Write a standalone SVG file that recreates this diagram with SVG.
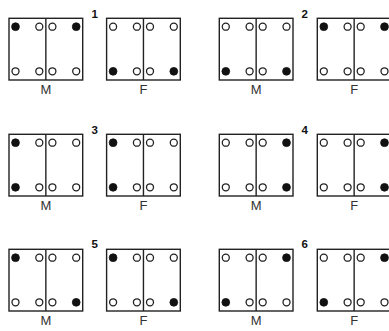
<svg xmlns="http://www.w3.org/2000/svg" xmlns:xlink="http://www.w3.org/1999/xlink" width="389" height="331" viewBox="0 0 389 331">
<style>
.bx{fill:none;stroke:#222;stroke-width:1.4}
.o{fill:#fff;stroke:#222;stroke-width:1.3}
.f{fill:#111;stroke:#111;stroke-width:0.8}
.lbl{font-family:"Liberation Sans",Arial,sans-serif;font-size:13px;fill:#333;text-anchor:middle}
.num{font-family:"Liberation Sans",Arial,sans-serif;font-size:11.5px;font-weight:bold;fill:#111;text-anchor:middle}
</style>
<defs>
<g id="box"><rect class="bx" x="0" y="0" width="73.7" height="61.7"/><line class="bx" x1="36.85" y1="0" x2="36.85" y2="61.7"/></g>
<circle id="oc" class="o" r="3.5"/>
<circle id="fc" class="f" r="3.9"/>
</defs>
<rect width="389" height="331" fill="#fff"/>

<!-- Row 1 -->
<g id="p1M" transform="translate(9,18.3)">
<use href="#box"/>
<use href="#fc" x="6.5" y="8.4"/><use href="#oc" x="30.3" y="8.4"/><use href="#oc" x="43.4" y="8.4"/><use href="#fc" x="67.2" y="8.4"/>
<use href="#oc" x="6.5" y="53"/><use href="#oc" x="30.3" y="53"/><use href="#oc" x="43.4" y="53"/><use href="#oc" x="67.2" y="53"/>
<text class="lbl" x="36.85" y="75.7">M</text>
</g>
<g id="n1"><text class="num" x="94.7" y="18.3">1</text></g>
<g id="p1F" transform="translate(106.6,18.3)">
<use href="#box"/>
<use href="#oc" x="6.5" y="8.4"/><use href="#oc" x="30.3" y="8.4"/><use href="#oc" x="43.4" y="8.4"/><use href="#oc" x="67.2" y="8.4"/>
<use href="#fc" x="6.5" y="53"/><use href="#oc" x="30.3" y="53"/><use href="#oc" x="43.4" y="53"/><use href="#fc" x="67.2" y="53"/>
<text class="lbl" x="36.85" y="75.7">F</text>
</g>
<g id="p2M" transform="translate(219.3,18.3)">
<use href="#box"/>
<use href="#oc" x="6.5" y="8.4"/><use href="#oc" x="30.3" y="8.4"/><use href="#oc" x="43.4" y="8.4"/><use href="#oc" x="67.2" y="8.4"/>
<use href="#fc" x="6.5" y="53"/><use href="#oc" x="30.3" y="53"/><use href="#oc" x="43.4" y="53"/><use href="#fc" x="67.2" y="53"/>
<text class="lbl" x="36.85" y="75.7">M</text>
</g>
<g id="n2"><text class="num" x="304.6" y="18.3">2</text></g>
<g id="p2F" transform="translate(317.3,18.3)">
<use href="#box"/>
<use href="#fc" x="6.5" y="8.4"/><use href="#oc" x="30.3" y="8.4"/><use href="#oc" x="43.4" y="8.4"/><use href="#fc" x="67.2" y="8.4"/>
<use href="#oc" x="6.5" y="53"/><use href="#oc" x="30.3" y="53"/><use href="#oc" x="43.4" y="53"/><use href="#oc" x="67.2" y="53"/>
<text class="lbl" x="36.85" y="75.7">F</text>
</g>

<!-- Row 2 -->
<g id="p3M" transform="translate(9,134.3)">
<use href="#box"/>
<use href="#fc" x="6.5" y="8.4"/><use href="#oc" x="30.3" y="8.4"/><use href="#oc" x="43.4" y="8.4"/><use href="#oc" x="67.2" y="8.4"/>
<use href="#fc" x="6.5" y="53"/><use href="#oc" x="30.3" y="53"/><use href="#oc" x="43.4" y="53"/><use href="#oc" x="67.2" y="53"/>
<text class="lbl" x="36.85" y="75.7">M</text>
</g>
<g id="n3"><text class="num" x="94.7" y="134.3">3</text></g>
<g id="p3F" transform="translate(106.6,134.3)">
<use href="#box"/>
<use href="#fc" x="6.5" y="8.4"/><use href="#oc" x="30.3" y="8.4"/><use href="#oc" x="43.4" y="8.4"/><use href="#oc" x="67.2" y="8.4"/>
<use href="#fc" x="6.5" y="53"/><use href="#oc" x="30.3" y="53"/><use href="#oc" x="43.4" y="53"/><use href="#oc" x="67.2" y="53"/>
<text class="lbl" x="36.85" y="75.7">F</text>
</g>
<g id="p4M" transform="translate(219.3,134.3)">
<use href="#box"/>
<use href="#oc" x="6.5" y="8.4"/><use href="#oc" x="30.3" y="8.4"/><use href="#oc" x="43.4" y="8.4"/><use href="#fc" x="67.2" y="8.4"/>
<use href="#oc" x="6.5" y="53"/><use href="#oc" x="30.3" y="53"/><use href="#oc" x="43.4" y="53"/><use href="#fc" x="67.2" y="53"/>
<text class="lbl" x="36.85" y="75.7">M</text>
</g>
<g id="n4"><text class="num" x="304.6" y="134.3">4</text></g>
<g id="p4F" transform="translate(317.3,134.3)">
<use href="#box"/>
<use href="#oc" x="6.5" y="8.4"/><use href="#oc" x="30.3" y="8.4"/><use href="#oc" x="43.4" y="8.4"/><use href="#fc" x="67.2" y="8.4"/>
<use href="#oc" x="6.5" y="53"/><use href="#oc" x="30.3" y="53"/><use href="#oc" x="43.4" y="53"/><use href="#fc" x="67.2" y="53"/>
<text class="lbl" x="36.85" y="75.7">F</text>
</g>

<!-- Row 3 -->
<g id="p5M" transform="translate(9,249.3)">
<use href="#box"/>
<use href="#fc" x="6.5" y="8.4"/><use href="#oc" x="30.3" y="8.4"/><use href="#oc" x="43.4" y="8.4"/><use href="#oc" x="67.2" y="8.4"/>
<use href="#oc" x="6.5" y="53"/><use href="#oc" x="30.3" y="53"/><use href="#oc" x="43.4" y="53"/><use href="#fc" x="67.2" y="53"/>
<text class="lbl" x="36.85" y="75.7">M</text>
</g>
<g id="n5"><text class="num" x="94.7" y="248">5</text></g>
<g id="p5F" transform="translate(106.6,249.3)">
<use href="#box"/>
<use href="#fc" x="6.5" y="8.4"/><use href="#oc" x="30.3" y="8.4"/><use href="#oc" x="43.4" y="8.4"/><use href="#oc" x="67.2" y="8.4"/>
<use href="#oc" x="6.5" y="53"/><use href="#oc" x="30.3" y="53"/><use href="#oc" x="43.4" y="53"/><use href="#fc" x="67.2" y="53"/>
<text class="lbl" x="36.85" y="75.7">F</text>
</g>
<g id="p6M" transform="translate(219.3,249.3)">
<use href="#box"/>
<use href="#oc" x="6.5" y="8.4"/><use href="#oc" x="30.3" y="8.4"/><use href="#oc" x="43.4" y="8.4"/><use href="#fc" x="67.2" y="8.4"/>
<use href="#fc" x="6.5" y="53"/><use href="#oc" x="30.3" y="53"/><use href="#oc" x="43.4" y="53"/><use href="#oc" x="67.2" y="53"/>
<text class="lbl" x="36.85" y="75.7">M</text>
</g>
<g id="n6"><text class="num" x="304.6" y="248">6</text></g>
<g id="p6F" transform="translate(317.3,249.3)">
<use href="#box"/>
<use href="#oc" x="6.5" y="8.4"/><use href="#oc" x="30.3" y="8.4"/><use href="#oc" x="43.4" y="8.4"/><use href="#fc" x="67.2" y="8.4"/>
<use href="#fc" x="6.5" y="53"/><use href="#oc" x="30.3" y="53"/><use href="#oc" x="43.4" y="53"/><use href="#oc" x="67.2" y="53"/>
<text class="lbl" x="36.85" y="75.7">F</text>
</g>
</svg>
